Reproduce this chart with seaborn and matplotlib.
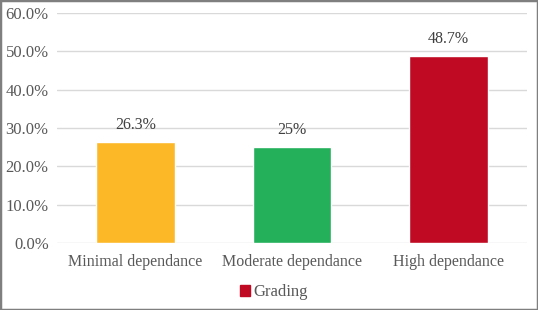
import pandas as pd
import matplotlib.pyplot as plt
import seaborn as sns
from matplotlib.patches import Patch, Rectangle

categorias = ['Minimal dependance', 'Moderate dependance', 'High dependance']
valores = [26.3, 25.0, 48.7]
rotulos = ['26.3%', '25%', '48.7%']
cores = ['#FDB827', '#24B05A', '#C00A23']

df = pd.DataFrame({'categoria': categorias, 'valor': valores})

sns.set_style('white')
plt.rcParams['font.family'] = ['Liberation Serif', 'DejaVu Serif']
cinza = '#595959'

fig = plt.figure(figsize=(5.38, 3.10), dpi=100)
ax = fig.add_axes([57 / 538, 67 / 310, 470 / 538, 230 / 310])

sns.barplot(data=df, x='categoria', y='valor', hue='categoria', palette=cores,
            saturation=1, width=0.5, legend=False, ax=ax, zorder=3)

for i, (v, r) in enumerate(zip(valores, rotulos)):
    ax.text(i, v + 2.5, r, ha='center', va='bottom', fontsize=11.5, color='#404040')

ax.set_ylim(0, 60)
ax.set_yticks(range(0, 61, 10))
ax.set_yticklabels([f'{t:.1f}%' for t in range(0, 61, 10)])
ax.grid(axis='y', color='#d9d9d9', linewidth=1, zorder=0)
ax.set_xlabel('')
ax.set_ylabel('')
ax.tick_params(axis='both', length=0, labelcolor=cinza)
ax.tick_params(axis='x', pad=8, labelsize=11.5)
ax.tick_params(axis='y', pad=6, labelsize=12)
for s in ax.spines.values():
    s.set_visible(False)

ax.legend(handles=[Patch(color='#C00A23', label='Grading')], loc='center',
          bbox_to_anchor=(0.462, -0.215), frameon=False, fontsize=12,
          handlelength=0.6, handleheight=0.6, handletextpad=0.2,
          labelcolor=cinza)

fig.patches.append(Rectangle((0, 0), 1, 1, transform=fig.transFigure, fill=False,
                             edgecolor='#7f7f7f', linewidth=2.5))

plt.savefig('out.png', dpi=100)
